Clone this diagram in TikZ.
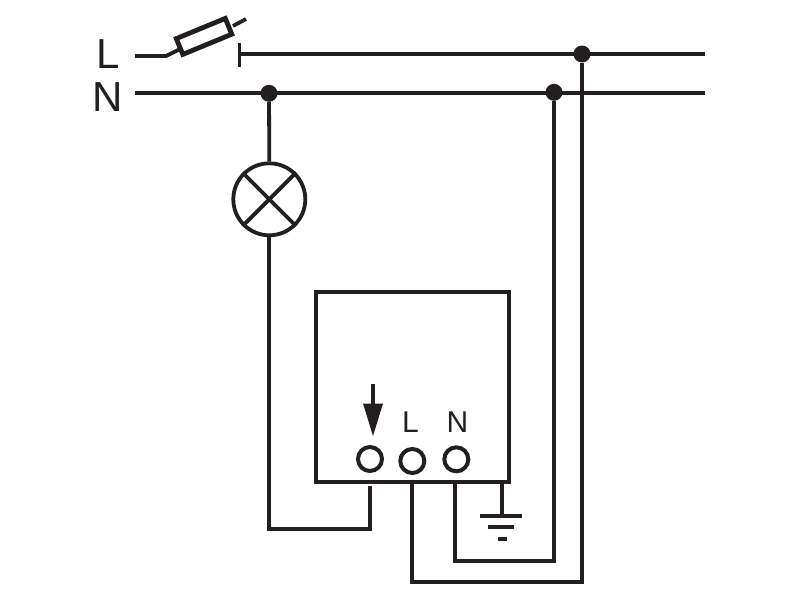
\documentclass[tikz,border=0pt]{standalone}
\usepackage{fontspec}
\setmainfont{Liberation Sans}
\usetikzlibrary{calc}
\definecolor{ink}{HTML}{231F20}
\tikzset{
  wire/.style={draw=ink,line width=3.8pt},
  joint/.style={circle,fill=ink,minimum size=17pt,inner sep=0pt},
  terminal/.style={circle,draw=ink,line width=4pt,minimum size=24pt,inner sep=0pt},
  biglabel/.style={text=ink,font=\fontsize{42}{42}\selectfont,inner sep=0pt},
  smalllabel/.style={text=ink,font=\fontsize{30}{30}\selectfont,inner sep=0pt}
}
\begin{document}
\begin{tikzpicture}[x=1pt,y=-1pt,line join=miter]
\useasboundingbox (0,0) rectangle (800,600);
\fill[white] (0,0) rectangle (800,600);
% labels
\node[biglabel] (labL) at (108.5,54) {L};
\node[biglabel] (labN) at (108,97) {N};
% coordinates
\coordinate (Lstart) at (135,56);
\coordinate (Lknee) at (166,56);
\coordinate (fuseA) at (179,49.5);
\coordinate (fuseB) at (233,26);
\coordinate (fuseEnd) at (246,19);
\coordinate (barTop) at (239.5,43);
\coordinate (barBot) at (239.5,67);
\coordinate (barMid) at (239.5,54);
\coordinate (Lend) at (705,54);
\coordinate (Nstart) at (135,93.3);
\coordinate (Nend) at (705,93.3);
% joints
\node[joint] (j1) at (269,93.3) {};
\node[joint] (j2) at (554,92.3) {};
\node[joint] (j3) at (582,54) {};
% mains
\draw[wire] (Lstart) -- (Lknee) -- (fuseA);
\draw[wire] (fuseB) -- (fuseEnd);
\draw[wire,line width=4.8pt] (176.3,38.6) -- (225.3,18.4) -- (231.8,34.2) -- (182.8,54.4) -- cycle;
\draw[wire] (barTop) -- (barBot);
\draw[wire] (barMid) -- (Lend);
\draw[wire] (Nstart) -- (Nend);
% lamp
\node[circle,draw=ink,line width=3.8pt,minimum size=72pt,inner sep=0pt,fill=white] (lamp) at (269.3,199.3) {};
\draw[wire] (lamp.north west) -- (lamp.south east);
\draw[wire] (lamp.north east) -- (lamp.south west);
\draw[wire] (j1) -- (lamp.north);
% box
\node[draw=ink,line width=3.8pt,minimum width=193pt,minimum height=190pt,inner sep=0pt] (box) at (412.5,387.3) {};
\node[terminal] (t1) at (370,459) {};
\node[terminal] (t2) at (412.3,461) {};
\node[terminal] (t3) at (456.3,459.3) {};
\node[smalllabel] (tL) at (410.5,422) {L};
\node[smalllabel] (tN) at (457.5,422) {N};
% arrow
\coordinate (arTop) at (373,384);
\coordinate (arNeck) at (373,404);
\draw[wire] (arTop) -- (arNeck);
\fill[ink] (363,403.5) -- (383,403.5) -- (373,436) -- cycle;
% wires below
\coordinate (a1) at (269.3,529.3);
\coordinate (a2) at (370.3,529.3);
\coordinate (a3) at (370.3,486);
\draw[wire] (lamp.south) -- (a1) -- (a2) -- (a3);
\coordinate (b0) at (412,482);
\coordinate (b1) at (412,582.3);
\coordinate (b2) at (582,582.3);
\draw[wire] (b0) -- (b1) -- (b2) -- (j3);
\coordinate (c0) at (455,484);
\coordinate (c1) at (455,561.3);
\coordinate (c2) at (554,561.3);
\draw[wire] (c0) -- (c1) -- (c2) -- (j2);
% earth
\coordinate (e0) at (502,484);
\coordinate (e1) at (502,516);
\draw[wire] (e0) -- (e1);
\draw[wire] (480,516) -- (522,516);
\draw[wire] (488,527) -- (514,527);
\draw[wire] (498,539) -- (507,539);
\end{tikzpicture}
\end{document}
